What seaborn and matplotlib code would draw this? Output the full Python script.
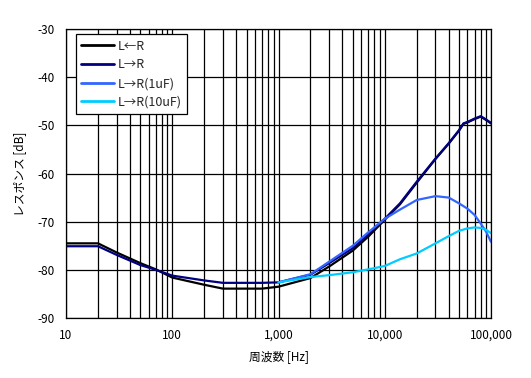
import matplotlib
matplotlib.use("Agg")
import matplotlib.pyplot as plt
import pandas as pd
import seaborn as sns
from matplotlib.ticker import FixedLocator, NullFormatter

# frequency points (Hz) and responses (dB)
freq_main = [10, 20, 30, 50, 70, 100, 200, 300, 500, 700, 1000, 2000, 3000, 5000,
             7000, 10000, 13900, 20000, 30000, 40000, 50000, 55000, 60000, 70000,
             80000, 90000, 100000]
resp_l_from_r = [-74.5, -74.5, -76.4, -78.6, -79.9, -81.6, -83.1, -83.9, -83.9, -83.9,
                 -83.5, -81.7, -79.3, -76.0, -73.1, -69.6, -66.4, -61.9, -57.0, -53.8,
                 -51.1, -49.7, -49.4, -48.7, -48.2, -48.9, -49.6]
resp_l_to_r = [-75.1, -75.1, -76.9, -79.0, -80.0, -81.2, -82.2, -82.7, -82.7, -82.7,
               -82.6, -81.0, -78.6, -75.5, -72.6, -69.4, -66.2, -61.7, -56.9, -53.7,
               -51.0, -49.6, -49.3, -48.6, -48.1, -48.8, -49.5]

freq_cap = [1000, 2000, 3000, 5000, 7000, 10000, 13900, 20000, 30000, 40000, 50000,
            60000, 70000, 80000, 90000, 100000]
resp_1uf = [-82.6, -80.9, -78.3, -75.0, -72.2, -69.4, -67.5, -65.5, -64.7, -65.0,
            -66.2, -67.3, -68.6, -70.4, -72.1, -74.2]
resp_10uf = [-82.6, -81.5, -81.1, -80.5, -79.9, -79.2, -77.8, -76.6, -74.5, -73.0,
             -71.9, -71.4, -71.2, -71.3, -71.7, -72.4]

series_names = ["L←R", "L→R", "L→R(1uF)", "L→R(10uF)"]
series_colors = ["#000000", "#000080", "#3366FF", "#00CCFF"]

x_ticks = [10, 100, 1000, 10000, 100000]
x_tick_labels = ["10", "100", "1,000", "10,000", "100,000"]
y_ticks = [-90, -80, -70, -60, -50, -40, -30]

frames = []
for name, f, r in zip(series_names,
                      [freq_main, freq_main, freq_cap, freq_cap],
                      [resp_l_from_r, resp_l_to_r, resp_1uf, resp_10uf]):
    frames.append(pd.DataFrame({"freq": f, "resp": r, "series": name}))
df = pd.concat(frames, ignore_index=True)

sns.set_theme(style="white")
plt.rcParams["font.family"] = ["Noto Sans CJK JP", "DejaVu Sans"]
plt.rcParams["axes.unicode_minus"] = False

fig = plt.figure(figsize=(5.31, 3.78), dpi=100)
ax = fig.add_axes([0.1243, 0.1587, 0.8004, 0.7646])

sns.lineplot(data=df, x="freq", y="resp", hue="series", hue_order=series_names,
             palette=series_colors, linewidth=1.6, estimator=None, ax=ax)

ax.set_xscale("log")
ax.set_xlim(10, 100000)
ax.set_ylim(-90, -30)
ax.xaxis.set_major_locator(FixedLocator(x_ticks))
ax.set_xticklabels(x_tick_labels)
minor = [m * 10 ** e for e in range(1, 5) for m in range(2, 10)]
ax.xaxis.set_minor_locator(FixedLocator(minor))
ax.xaxis.set_minor_formatter(NullFormatter())
ax.set_yticks(y_ticks)

ax.grid(True, which="both", axis="x", color="black", linewidth=0.9)
ax.grid(True, which="major", axis="y", color="black", linewidth=0.9)
ax.set_axisbelow(True)
for s in ax.spines.values():
    s.set_color("black")
    s.set_linewidth(0.9)
ax.tick_params(axis="both", which="both", length=0, labelsize=8.5, colors="black", pad=8)

ax.set_xlabel("周波数 [Hz]", fontsize=8.5, color="black", labelpad=6)
ax.set_ylabel("レスポンス [dB]", fontsize=8.5, color="black", labelpad=8)

leg = ax.legend(loc="upper left", bbox_to_anchor=(0.023, 0.982), fontsize=9,
                frameon=True, fancybox=False, edgecolor="black", framealpha=1,
                handlelength=2.6, labelspacing=0.45, borderpad=0.45, handletextpad=0.3,
                borderaxespad=0)
leg.get_frame().set_linewidth(0.9)
for line in leg.get_lines():
    line.set_linewidth(2.0)

fig.savefig("out.png", dpi=100, facecolor="white")
